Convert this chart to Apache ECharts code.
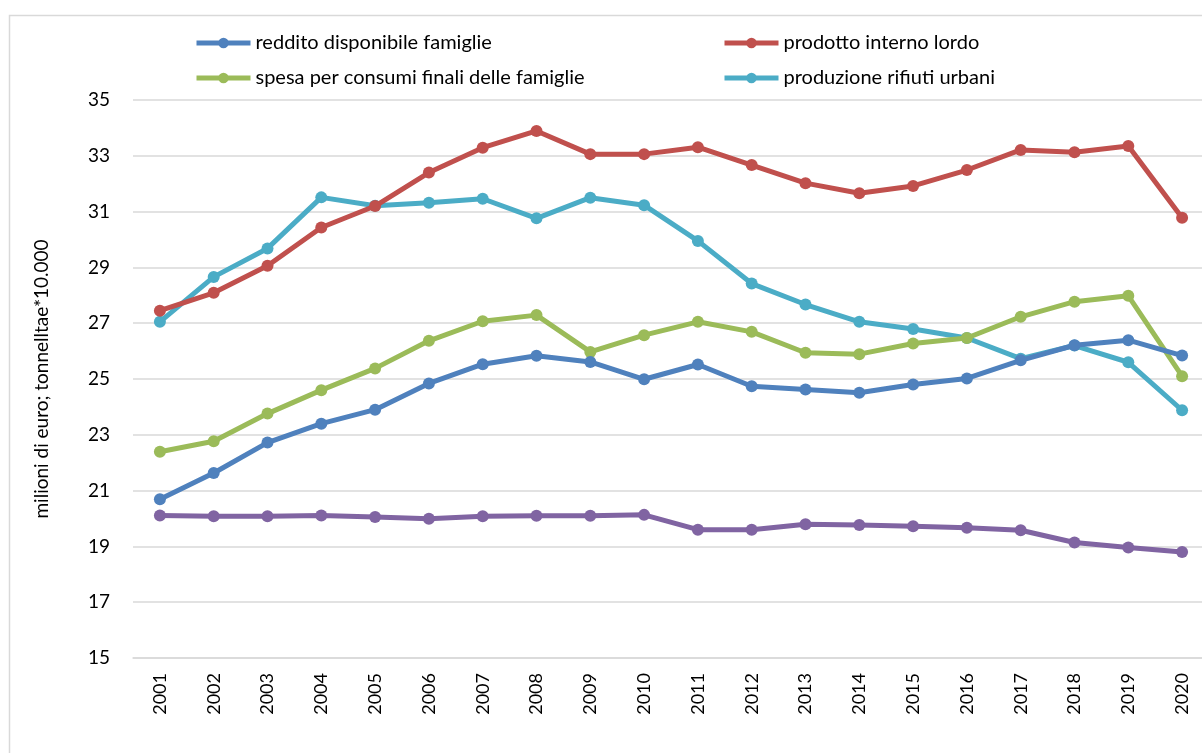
<!DOCTYPE html>
<html>
<head>
<meta charset="utf-8">
<script src="https://cdn.jsdelivr.net/npm/echarts@6/dist/echarts.min.js"></script>
<style>
  html, body { margin: 0; padding: 0; background: #fff; }
  #main { width: 1202px; height: 753px; }
</style>
</head>
<body>
<div id="main"></div>
<script>
// dati
var anni = ['2001','2002','2003','2004','2005','2006','2007','2008','2009','2010',
            '2011','2012','2013','2014','2015','2016','2017','2018','2019','2020'];
var reddito = [20.69,21.63,22.72,23.40,23.90,24.84,25.53,25.83,25.61,24.99,
               25.52,24.74,24.62,24.51,24.80,25.02,25.67,26.21,26.39,25.84];
var pil = [27.45,28.09,29.06,30.43,31.20,32.40,33.29,33.89,33.06,33.06,
           33.31,32.67,32.02,31.66,31.92,32.49,33.21,33.13,33.35,30.78];
var spesa = [22.39,22.77,23.76,24.60,25.38,26.37,27.07,27.29,25.97,26.57,
             27.05,26.69,25.94,25.89,26.27,26.47,27.23,27.77,27.98,25.10];
var rifiuti = [27.05,28.66,29.68,31.51,31.21,31.32,31.46,30.76,31.50,31.23,
               29.95,28.42,27.67,27.05,26.79,26.47,25.73,26.20,25.60,23.88];
var quinta = [20.11,20.08,20.08,20.11,20.05,19.99,20.08,20.10,20.10,20.13,
              19.60,19.60,19.79,19.77,19.72,19.67,19.58,19.14,18.96,18.80];

var nomi = ['reddito disponibile famiglie','prodotto interno lordo',
            'spesa per consumi finali delle famiglie','produzione rifiuti urbani',''];
var colori = ['#4F81BD','#C0504D','#9BBB59','#4BACC6','#8064A2'];
var dati = [reddito, pil, spesa, rifiuti, quinta];

var font = 'Lato, "Liberation Sans", sans-serif';

var myChart = echarts.init(document.getElementById('main'));

var series = [];
for (var i = 0; i < dati.length; i++) {
    series.push({
        name: nomi[i],
        type: 'line',
        data: dati[i],
        symbol: 'circle',
        symbolSize: 12,
        lineStyle: { width: 5, color: colori[i] },
        itemStyle: { color: colori[i] },
        emphasis: { disabled: true },
        z: 5 - i
    });
}

function legenda(nome, left, top) {
    return {
        data: [nome],
        left: left,
        top: top,
        itemWidth: 54,
        itemHeight: 13,
        itemGap: 4,
        padding: 0,
        lineStyle: { width: 5 },
        textStyle: { fontFamily: font, fontSize: 20, color: '#000' }
    };
}

myChart.setOption({
    animation: false,
    backgroundColor: '#fff',
    graphic: [{
        type: 'rect',
        left: 7, top: 13,
        shape: { width: 1260, height: 800 },
        style: { fill: 'none', stroke: '#d9d9d9', lineWidth: 1.5 }
    }],
    legend: [
        legenda(nomi[0], 194, 33),
        legenda(nomi[1], 722, 33),
        legenda(nomi[2], 194, 68),
        legenda(nomi[3], 722, 68)
    ],
    grid: { left: 133, width: 1076, top: 100, bottom: 95, containLabel: false, outerBoundsMode: 'none' },
    xAxis: {
        type: 'category',
        data: anni,
        boundaryGap: true,
        axisLine: { show: true, lineStyle: { color: '#d9d9d9', width: 1.5 } },
        axisTick: { show: false },
        axisLabel: { rotate: 90, margin: 15, fontFamily: font, fontSize: 18, color: '#000' }
    },
    yAxis: {
        type: 'value',
        min: 15, max: 35, interval: 2,
        name: 'milioni di euro; tonnelltae*10.000',
        nameLocation: 'middle',
        nameGap: 82,
        nameTextStyle: { fontFamily: font, fontSize: 19, color: '#000' },
        axisLine: { show: false },
        axisTick: { show: false },
        axisLabel: { margin: 23, fontFamily: font, fontSize: 19, color: '#000' },
        splitLine: { lineStyle: { color: '#d9d9d9', width: 1.5 } }
    },
    series: series
});
</script>
</body>
</html>
